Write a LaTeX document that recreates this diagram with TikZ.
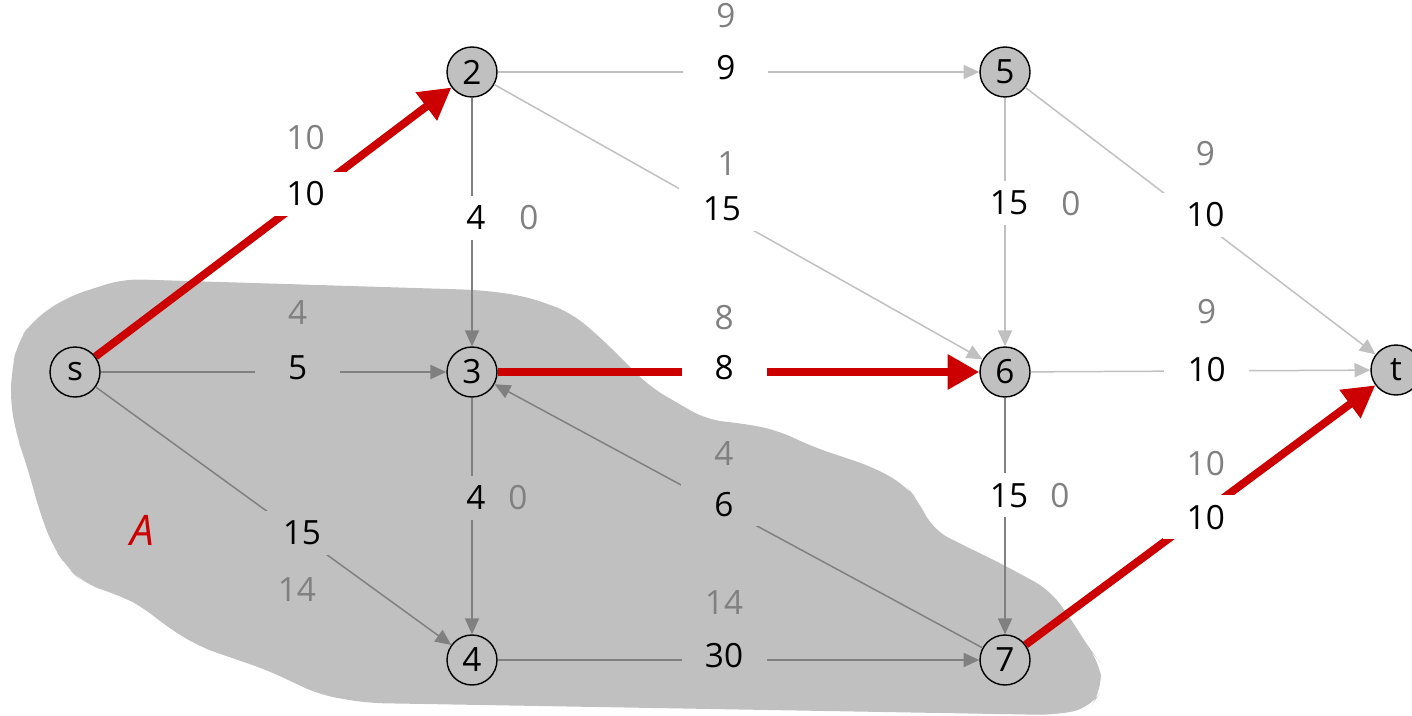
\documentclass[tikz,border=0pt]{standalone}
\usepackage{fontspec}
\setmainfont{Open Sans}
\usetikzlibrary{arrows.meta}
\definecolor{cutred}{RGB}{204,0,0}
\definecolor{cutgray}{RGB}{192,192,192}
\definecolor{edgegray}{RGB}{128,128,128}

\begin{document}
\begin{tikzpicture}[
				x=0.02cm, y=-0.02cm,
				font=\fontsize{19}{22}\selectfont,
				vertex/.style={circle, draw, line width=0.8pt, fill=cutgray, minimum size=1cm, inner sep=0pt},
				capbox/.style={fill=white, minimum width=1.7cm, minimum height=0.88cm, inner sep=0pt, yshift=0.08cm},
				capinbox/.style={capbox, fill=cutgray},
				flow/.style={text=edgegray, yshift=0.08cm},
				used/.style={draw=edgegray, line width=0.85pt, -{Triangle[length=9pt,width=8pt]}},
				spare/.style={draw=cutgray, line width=0.85pt, -{Triangle[length=9pt,width=8pt]}},
				full/.style={draw=cutred, line width=4.5pt, -{Triangle[length=18pt,width=19pt]}}
				]
				\useasboundingbox (0,0) rectangle (1412,716);
				
				% the cut side A
				\fill[cutgray, rounded corners=10pt] (123,279) -- (480,290) -- (525,296) -- (570,312) -- (600,337) -- (650,387)
				-- (707,420) -- (740,423) -- (777,430) -- (813,447) -- (873,467) -- (905,485) -- (918,500) -- (933,530)
				-- (967,547) -- (1000,563) -- (1050,590) -- (1075,625) -- (1090,650) -- (1100,662) -- (1102,690)
				-- (1090,708) -- (1055,715) -- (367,703) -- (320,695) -- (267,670) -- (200,647) -- (167,627)
				-- (143,607) -- (123,597) -- (83,583) -- (67,567) -- (53,547) -- (40,513) -- (33,487) -- (25,460)
				-- (17,437) -- (10,400) -- (12,370) -- (17,343) -- (33,320) -- (67,297) -- cycle;
				\node (A) [text=cutred, font=\fontsize{24}{28}\selectfont\itshape] at (142,530) {A};
				
				\node (s) [vertex] at (75,372) {s};
				\node (n2) [vertex] at (472,72) {2};
				\node (n3) [vertex] at (472,372) {3};
				\node (n4) [vertex] at (472,660) {4};
				\node (n5) [vertex] at (1005,72) {5};
				\node (n6) [vertex] at (1005,372) {6};
				\node (n7) [vertex] at (1005,660) {7};
				\node (t) [vertex] at (1396,370) {t};
				
				\draw [full] (s) -- node[capbox, pos=0.59] {10} node[flow, pos=0.59, yshift=1.12cm] {10} (n2);
				\draw [used] (s) -- node[capinbox, pos=0.57] {5} node[flow, pos=0.57, yshift=1.1cm] {4} (n3);
				\draw [used] (s) -- node[capinbox, pos=0.58] {15} node[flow, pos=0.58, xshift=-0.1cm, yshift=-1.14cm] {14} (n4);
				\draw [used] (n2) -- node[capbox, pos=0.5, xshift=0.08cm] {4} node[flow, pos=0.5, xshift=1.14cm] {0} (n3);
				\draw [spare] (n2) -- node[capbox, pos=0.474] {9} node[flow, pos=0.474, yshift=1.04cm] {9} (n5);
				\draw [spare] (n2) -- node[capbox, pos=0.466] {15} node[flow, pos=0.466, xshift=0.1cm, yshift=0.9cm] {1} (n6);
				\draw [spare] (n5) -- node[capbox, pos=0.44, xshift=0.08cm] {15} node[flow, pos=0.44, xshift=1.32cm] {0} (n6);
				\draw [spare] (n5) -- node[capbox, pos=0.514, yshift=0.12cm] {10} node[flow, pos=0.514, yshift=1.34cm] {9} (t);
				\draw [full] (n3) -- node[capbox, pos=0.47] {8} node[flow, pos=0.47, yshift=1cm] {8} (n6);
				\draw [used] (n3) -- node[capinbox, pos=0.44, xshift=0.08cm] {4} node[flow, pos=0.44, xshift=0.92cm] {0} (n4);
				\draw [spare] (n6) -- node[capbox, pos=0.518, yshift=-0.06cm] {10} node[flow, pos=0.518, yshift=1.1cm] {9} (t);
				\draw [used] (n6) -- node[capbox, pos=0.43, xshift=0.08cm] {15} node[flow, pos=0.43, xshift=1.1cm] {0} (n7);
				\draw [used] (n7) -- node[capinbox, pos=0.53] {6} node[flow, pos=0.53, yshift=1.02cm] {4} (n3);
				\draw [used] (n4) -- node[capinbox, pos=0.47] {30} node[flow, pos=0.47, yshift=1.06cm] {14} (n7);
				\draw [full] (n7) -- node[capbox, pos=0.515, yshift=-0.2cm] {10} node[flow, pos=0.515, yshift=0.88cm] {10} (t);
			\end{tikzpicture}
\end{document}
